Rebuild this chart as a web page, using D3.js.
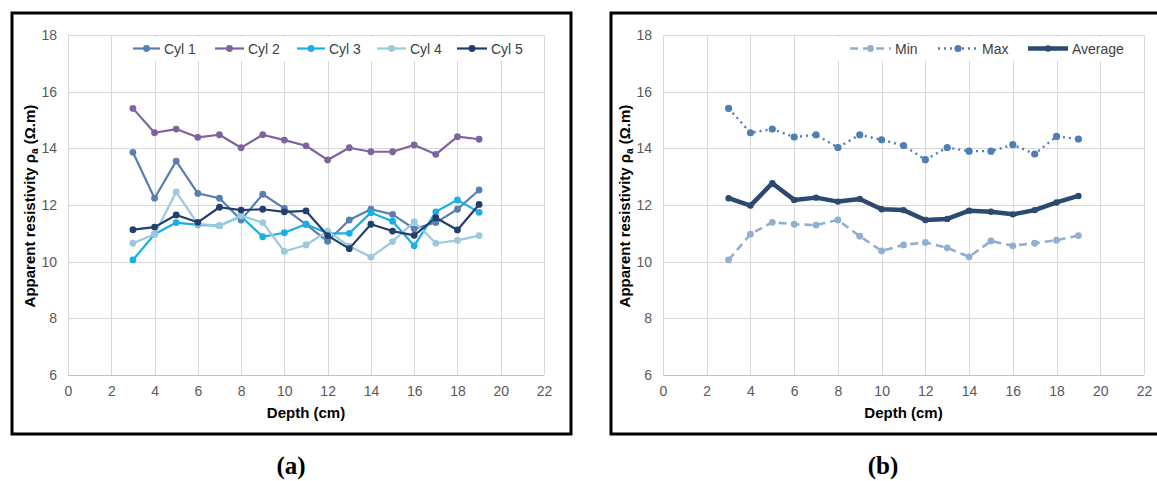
<!DOCTYPE html>
<html>
<head>
<meta charset="utf-8">
<script src="https://cdn.jsdelivr.net/npm/d3@7"></script>
<style>
  html, body { margin: 0; padding: 0; background: #fff; }
  svg { display: block; }
  text { font-family: "Liberation Sans", Arial, sans-serif; }
  text.caption { font-family: "Liberation Serif", "Times New Roman", serif; }
</style>
</head>
<body>
<svg id="chart" width="1157" height="481"></svg>
<script>
// ---------- Data ----------
const depths = [3, 4, 5, 6, 7, 8, 9, 10, 11, 12, 13, 14, 15, 16, 17, 18, 19];

const cyl1 = [13.86, 12.24, 13.55, 12.41, 12.24, 11.47, 12.38, 11.88, 11.32, 10.72, 11.47, 11.85, 11.67, 11.16, 11.38, 11.85, 12.53];
const cyl2 = [15.41, 14.55, 14.68, 14.39, 14.48, 14.02, 14.48, 14.29, 14.09, 13.59, 14.02, 13.88, 13.88, 14.12, 13.79, 14.41, 14.32];
const cyl3 = [10.06, 10.97, 11.38, 11.30, 11.27, 11.60, 10.88, 11.02, 11.32, 11.00, 11.00, 11.73, 11.43, 10.56, 11.76, 12.18, 11.74];
const cyl4 = [10.65, 10.97, 12.46, 11.33, 11.27, 11.62, 11.38, 10.36, 10.59, 11.08, 10.55, 10.16, 10.71, 11.41, 10.65, 10.75, 10.92];
const cyl5 = [11.13, 11.22, 11.65, 11.39, 11.92, 11.82, 11.85, 11.76, 11.79, 10.92, 10.46, 11.32, 11.08, 10.93, 11.55, 11.12, 12.02];

const minVals = [10.06, 10.97, 11.39, 11.32, 11.29, 11.47, 10.90, 10.38, 10.59, 10.68, 10.49, 10.17, 10.73, 10.56, 10.65, 10.76, 10.92];
const maxVals = [15.41, 14.55, 14.68, 14.40, 14.48, 14.03, 14.48, 14.30, 14.10, 13.60, 14.03, 13.90, 13.90, 14.13, 13.80, 14.42, 14.33];
const avgVals = [12.24, 11.98, 12.77, 12.18, 12.26, 12.12, 12.21, 11.85, 11.82, 11.47, 11.51, 11.80, 11.76, 11.67, 11.82, 12.09, 12.32];

const namesA = ["Cyl 1", "Cyl 2", "Cyl 3", "Cyl 4", "Cyl 5"];
const namesB = ["Min", "Max", "Average"];

const xTicks = [0, 2, 4, 6, 8, 10, 12, 14, 16, 18, 20, 22];
const yTicks = [6, 8, 10, 12, 14, 16, 18];

const xTitle = "Depth (cm)";
const captions = ["(a)", "(b)"];

// ---------- Drawing ----------
const svg = d3.select("#chart");

function drawPanel(opt) {
  const g = svg.append("g");
  // outer frame
  g.append("rect")
    .attr("x", opt.frame[0]).attr("y", opt.frame[1])
    .attr("width", opt.frame[2]).attr("height", opt.frame[3])
    .attr("fill", "none").attr("stroke", "#000").attr("stroke-width", 3);

  const x = d3.scaleLinear().domain([0, 22]).range([opt.left, opt.right]);
  const y = d3.scaleLinear().domain([6, 18]).range([375, 35]);

  // gridlines
  g.append("g").selectAll("line.v").data(xTicks).join("line")
    .attr("x1", d => Math.round(x(d)) + 0.5).attr("x2", d => Math.round(x(d)) + 0.5)
    .attr("y1", y(18)).attr("y2", y(6))
    .attr("stroke", "#d9d9d9").attr("stroke-width", 1);
  g.append("g").selectAll("line.h").data(yTicks).join("line")
    .attr("x1", x(0)).attr("x2", x(22))
    .attr("y1", d => Math.round(y(d)) + 0.5).attr("y2", d => Math.round(y(d)) + 0.5)
    .attr("stroke", d => d === 6 ? "#bfbfbf" : "#d9d9d9").attr("stroke-width", 1);

  // axes (labels only)
  const xAxis = d3.axisBottom(x).tickValues(xTicks).tickSize(0).tickPadding(11);
  const gx = g.append("g").attr("transform", `translate(0,${y(6)})`).call(xAxis);
  gx.select(".domain").remove();
  gx.selectAll("text").attr("font-size", 14).attr("fill", "#595959")
    .style("font-family", "'Liberation Sans', Arial, sans-serif");

  const yAxis = d3.axisLeft(y).tickValues(yTicks).tickSize(0).tickPadding(opt.left - opt.yLabelRight);
  const gy = g.append("g").attr("transform", `translate(${x(0)},0)`).call(yAxis);
  gy.select(".domain").remove();
  gy.selectAll("text").attr("font-size", 14).attr("fill", "#595959")
    .style("font-family", "'Liberation Sans', Arial, sans-serif");

  // axis titles
  g.append("text")
    .attr("x", (x(0) + x(22)) / 2).attr("y", 418)
    .attr("text-anchor", "middle").attr("font-size", 15).attr("font-weight", "bold")
    .attr("fill", "#000").text(xTitle);

  const yt = g.append("text")
    .attr("transform", `translate(${opt.yTitleX},206) rotate(-90)`)
    .attr("text-anchor", "middle").attr("font-size", 15).attr("font-weight", "bold")
    .attr("fill", "#000");
  yt.append("tspan").text("Apparent resistivity \u03c1");
  yt.append("tspan").attr("font-size", 10).attr("dy", 3).text("a");
  yt.append("tspan").attr("dy", -3).text(" (\u03a9.m)");

  // legend background (covers gridlines)
  g.append("rect")
    .attr("x", opt.legendBox[0]).attr("y", 37)
    .attr("width", opt.legendBox[1] - opt.legendBox[0]).attr("height", 24)
    .attr("fill", "#fff");

  // series
  const line = d3.line().x((d, i) => x(depths[i])).y(d => y(d));
  opt.series.forEach(s => {
    const sg = g.append("g");
    sg.append("path").datum(s.values)
      .attr("d", line).attr("fill", "none")
      .attr("stroke", s.color).attr("stroke-width", s.width)
      .attr("stroke-dasharray", s.dash || null)
      .attr("stroke-linejoin", "round")
      .attr("stroke-linecap", s.cap || "butt");
    sg.selectAll("circle").data(s.values).join("circle")
      .attr("cx", (d, i) => x(depths[i])).attr("cy", d => y(d))
      .attr("r", s.r).attr("fill", s.color);

    // legend entry
    const lg = g.append("g");
    lg.append("line")
      .attr("x1", s.leg[0]).attr("x2", s.leg[1]).attr("y1", 48.5).attr("y2", 48.5)
      .attr("stroke", s.color).attr("stroke-width", s.width)
      .attr("stroke-dasharray", s.dash || null)
      .attr("stroke-linecap", s.cap || "butt");
    lg.append("circle")
      .attr("cx", (s.leg[0] + s.leg[1]) / 2).attr("cy", 48.5).attr("r", s.r).attr("fill", s.color);
    lg.append("text")
      .attr("x", s.leg[1] + 4).attr("y", 53.5)
      .attr("font-size", 14).attr("fill", "#404040").text(s.name);
  });

  // caption
  svg.append("text")
    .attr("class", "caption")
    .attr("x", opt.captionX).attr("y", 474)
    .attr("text-anchor", "middle")
    .attr("font-size", 25).attr("font-weight", "bold")
    .attr("fill", "#000").text(opt.caption);
}

drawPanel({
  frame: [12, 13, 559, 421],
  left: 68, right: 544, yLabelRight: 57, yTitleX: 35,
  legendBox: [126, 525],
  captionX: 291, caption: captions[0],
  series: [
    { name: namesA[0], values: cyl1, color: "#5a7eb2", width: 2.2, r: 3.4, leg: [133, 160] },
    { name: namesA[1], values: cyl2, color: "#7f63a1", width: 2.2, r: 3.4, leg: [215, 244] },
    { name: namesA[2], values: cyl3, color: "#1aaee6", width: 2.2, r: 3.4, leg: [297, 325] },
    { name: namesA[3], values: cyl4, color: "#9cc9dc", width: 2.2, r: 3.4, leg: [377, 406] },
    { name: namesA[4], values: cyl5, color: "#213f6c", width: 2.2, r: 3.4, leg: [457, 487] }
  ]
});

drawPanel({
  frame: [611, 13, 570, 421],
  left: 663, right: 1144, yLabelRight: 652, yTitleX: 630,
  legendBox: [836, 1140],
  captionX: 883, caption: captions[1],
  series: [
    { name: namesB[0], values: minVals, color: "#93aed3", width: 2.6, r: 3.4, dash: "8,5", leg: [850, 891] },
    { name: namesB[1], values: maxVals, color: "#4f7db6", width: 2.4, r: 3.6, dash: "2,4", cap: "butt", leg: [938, 978] },
    { name: namesB[2], values: avgVals, color: "#2b4a70", width: 4.5, r: 3.2, leg: [1028, 1068] }
  ]
});
</script>
</body>
</html>
